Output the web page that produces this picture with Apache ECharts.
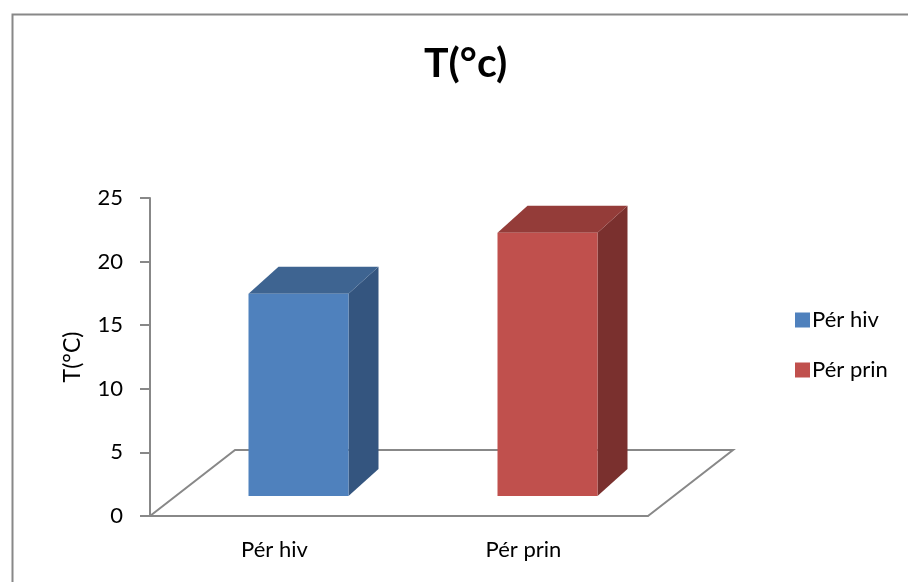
<!DOCTYPE html>
<html>
<head>
<meta charset="utf-8">
<script src="https://cdn.jsdelivr.net/npm/echarts@6/dist/echarts.min.js"></script>
<style>html,body{margin:0;padding:0;background:#fff}#c{width:908px;height:582px}</style>
</head>
<body>
<div id="c"></div>
<script>
const categories = ['Pér hiv', 'Pér prin'];
const values = [15.9, 20.7];
const yTicks = [0, 5, 10, 15, 20, 25];
const titleText = 'T(°c)';
const yName = 'T(°C)';

const faceColors = [
  { front: '#4F81BD', top: '#3E6491', side: '#34557F' },
  { front: '#C0504D', top: '#943C39', side: '#7A302E' }
];
const FONT = 'Lato';
const DEPTH = { dx: 30, dy: -27 };
const FRONT_OFF = { dx: 24, dy: -20 };
const FLOOR = { dx: 85, dy: -66 };
const BAR_W = 100;

function boxRender(colors) {
  return function (params, api) {
    const base = api.coord([api.value(0), 0]);
    const top = api.coord([api.value(0), api.value(1)]);
    const cx = base[0] + FRONT_OFF.dx;
    const xl = cx - BAR_W / 2, xr = cx + BAR_W / 2;
    const yb = base[1] + FRONT_OFF.dy, yt = top[1] + FRONT_OFF.dy;
    return {
      type: 'group',
      children: [
        { type: 'polygon', shape: { points: [[xr, yt], [xr + DEPTH.dx, yt + DEPTH.dy], [xr + DEPTH.dx, yb + DEPTH.dy], [xr, yb]] }, style: { fill: colors.side } },
        { type: 'polygon', shape: { points: [[xl, yt], [xr, yt], [xr + DEPTH.dx, yt + DEPTH.dy], [xl + DEPTH.dx, yt + DEPTH.dy]] }, style: { fill: colors.top } },
        { type: 'rect', shape: { x: xl, y: yt, width: BAR_W, height: yb - yt }, style: { fill: colors.front } }
      ]
    };
  };
}

const series = [{
  type: 'custom',
  name: 'floor',
  silent: true,
  z: 1,
  data: [[categories[0], 0]],
  renderItem: function (params, api) {
    const cs = params.coordSys;
    const x0 = cs.x, x1 = cs.x + cs.width, yb = cs.y + cs.height;
    return {
      type: 'polyline',
      shape: { points: [[x0, yb], [x0 + FLOOR.dx, yb + FLOOR.dy], [x1 + FLOOR.dx, yb + FLOOR.dy], [x1, yb]] },
      style: { stroke: '#888888', lineWidth: 2, fill: null }
    };
  }
}];
categories.forEach(function (c, i) {
  series.push({
    type: 'custom',
    name: c,
    z: 3,
    itemStyle: { color: faceColors[i].front },
    data: [[c, values[i]]],
    encode: { x: 0, y: 1 },
    renderItem: boxRender(faceColors[i])
  });
});

const chart = echarts.init(document.getElementById('c'), null, { renderer: 'canvas' });
chart.setOption({
  backgroundColor: '#fff',
  animation: false,
  title: {
    text: titleText, left: 419, top: 38,
    textStyle: { fontFamily: FONT, fontWeight: 'bold', fontSize: 41, color: '#000' }
  },
  legend: {
    data: categories,
    orient: 'vertical',
    left: 790, top: 304,
    itemWidth: 15, itemHeight: 15, itemGap: 28,
    icon: 'rect',
    textStyle: { fontFamily: FONT, fontSize: 22, color: '#000', padding: [0, 0, 0, -3] }
  },
  grid: { left: 150, right: 260, top: 198, bottom: 66, containLabel: false },
  xAxis: {
    type: 'category',
    data: categories,
    axisLine: { lineStyle: { color: '#888888', width: 2 } },
    axisTick: { show: false },
    axisLabel: { fontFamily: FONT, fontSize: 22, color: '#000', margin: 23 },
    splitLine: { show: false }
  },
  yAxis: {
    type: 'value',
    min: yTicks[0], max: yTicks[yTicks.length - 1], interval: yTicks[1] - yTicks[0],
    name: yName, nameLocation: 'middle', nameRotate: 90, nameGap: 66,
    nameTextStyle: { fontFamily: FONT, fontSize: 23, color: '#000' },
    axisLine: { show: true, lineStyle: { color: '#888888', width: 2 } },
    axisTick: { show: true, length: 10, lineStyle: { color: '#888888', width: 2 } },
    axisLabel: { fontFamily: FONT, fontSize: 22, color: '#000', margin: 27 },
    splitLine: { show: false }
  },
  graphic: [{
    type: 'rect', left: 10, top: 12, silent: true,
    shape: { width: 1000, height: 1000 },
    style: { fill: null, stroke: '#888888', lineWidth: 2 }
  }],
  series: series
});
</script>
</body>
</html>
